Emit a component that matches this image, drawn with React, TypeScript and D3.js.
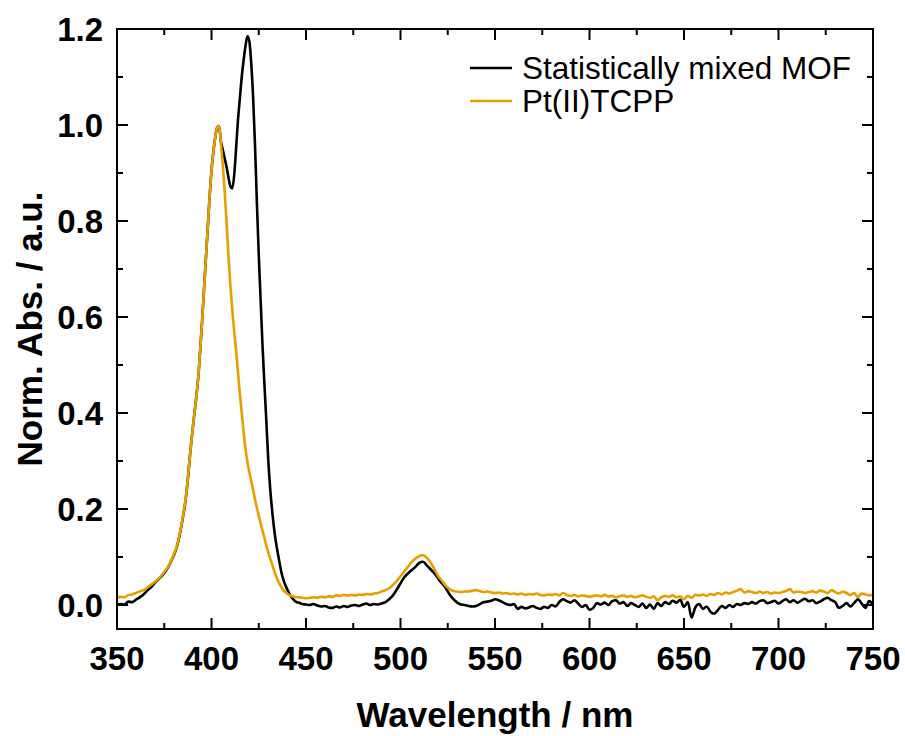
import { useRef, useEffect } from "react";
import * as d3 from "d3";

// sampling grid: 2 nm on the wings, 1 nm across the Soret band
const wavelengths = [
  ...d3.range(350, 380, 2),
  ...d3.range(380, 446, 1),
  ...d3.range(446, 751, 2),
];

// Statistically mixed MOF (black)
const mofEdge = [
  0.0, 0.002, 0.001, 0.007, 0.006, 0.011, 0.016, 0.022, 0.03, 0.037, 0.046,
  0.054, 0.062, 0.072, 0.086,
];
const mofSoret = [
  0.103, 0.113, 0.126, 0.143, 0.163, 0.186, 0.21, 0.243, 0.285, 0.328,
  0.365, 0.4, 0.435, 0.475, 0.53, 0.59, 0.655, 0.72, 0.785, 0.85,
  0.905, 0.945, 0.975, 0.995, 0.998, 0.965, 0.948, 0.93, 0.912, 0.89,
  0.872, 0.868, 0.895, 0.95, 1.01, 1.055, 1.1, 1.135, 1.165, 1.185,
  1.175, 1.13, 1.06, 0.96, 0.84, 0.73, 0.635, 0.54, 0.46, 0.385,
  0.305, 0.245, 0.2, 0.163, 0.133, 0.11, 0.088, 0.068, 0.053, 0.042,
  0.033, 0.025, 0.018, 0.013, 0.009, 0.006,
];
const mofQ = [
  0.005, 0.002, 0.001, 0.0, 0.002, -0.001, -0.003, -0.002, -0.005, -0.006,
  -0.003, -0.005, -0.002, -0.004, -0.001, 0.0, -0.002, 0.001, 0.003, 0.0,
  0.002, 0.001, 0.003, 0.006, 0.012, 0.02, 0.032, 0.045, 0.058, 0.066,
  0.073, 0.08, 0.088, 0.09, 0.082, 0.074, 0.066, 0.055, 0.045, 0.035,
  0.022, 0.012, 0.005, 0.001, 0.0, -0.002, -0.003, -0.002, 0.002, 0.006,
  0.007, 0.009, 0.012, 0.01, 0.006, 0.002, 0.0, 0.002, -0.008, -0.004,
  -0.007, -0.005, -0.002, -0.006, -0.008, -0.004, -0.006, 0.0, -0.003, 0.006,
  0.012, 0.008, 0.005, 0.01, 0.003, -0.004, 0.0, -0.01, -0.006, 0.004,
  0.001, 0.005, 0.0, 0.008, 0.01, 0.003, 0.006, -0.002, 0.004, 0.0,
  -0.004, 0.003, -0.006, 0.001, -0.008, 0.004, -0.002, 0.006, 0.002, 0.009,
  0.005, 0.011, -0.004, 0.006, -0.026, -0.005, 0.002, -0.008, -0.003, -0.014,
  -0.018, -0.01, -0.002, -0.006, 0.0, -0.004, 0.002, 0.0, 0.004, 0.002,
  0.006, 0.003, 0.008, 0.01, 0.004, 0.006, 0.009, 0.003, 0.008, 0.012,
  0.006, 0.01, 0.005, 0.009, 0.013, 0.008, 0.01, 0.004, 0.007, 0.012,
  0.015, 0.01, 0.006, -0.006, -0.002, 0.004, -0.003, 0.004, 0.012, 0.003,
  -0.006, 0.008, 0.0,
];

// Pt(II)TCPP (orange)
const ptEdge = [
  0.015, 0.017, 0.016, 0.021, 0.022, 0.025, 0.028, 0.031, 0.036, 0.042,
  0.048, 0.055, 0.064, 0.074, 0.087,
];
const ptSoret = [
  0.105, 0.115, 0.128, 0.145, 0.165, 0.188, 0.212, 0.245, 0.285, 0.328,
  0.365, 0.4, 0.435, 0.475, 0.53, 0.59, 0.655, 0.72, 0.785, 0.85,
  0.905, 0.945, 0.975, 0.995, 0.998, 0.96, 0.915, 0.86, 0.795, 0.725,
  0.665, 0.615, 0.57, 0.53, 0.485, 0.44, 0.4, 0.36, 0.325, 0.298,
  0.277, 0.258, 0.24, 0.22, 0.203, 0.186, 0.17, 0.155, 0.14, 0.124,
  0.11, 0.097, 0.086, 0.073, 0.062, 0.052, 0.044, 0.037, 0.031, 0.027,
  0.024, 0.021, 0.019, 0.018, 0.017, 0.016,
];
const ptQ = [
  0.016, 0.015, 0.014, 0.015, 0.016, 0.015, 0.017, 0.016, 0.018, 0.017,
  0.02, 0.019, 0.021, 0.02, 0.021, 0.02, 0.022, 0.021, 0.023, 0.022,
  0.024, 0.025, 0.028, 0.031, 0.035, 0.042, 0.05, 0.06, 0.07, 0.08,
  0.09, 0.097, 0.102, 0.104, 0.098, 0.088, 0.074, 0.06, 0.05, 0.04,
  0.033, 0.029, 0.028, 0.027, 0.028, 0.028, 0.03, 0.031, 0.029, 0.027,
  0.028, 0.026, 0.025, 0.026, 0.024, 0.025, 0.023, 0.024, 0.022, 0.024,
  0.021, 0.023, 0.022, 0.024, 0.021, 0.02, 0.022, 0.021, 0.023, 0.02,
  0.025, 0.021, 0.019, 0.021, 0.018, 0.02, 0.019, 0.017, 0.019, 0.02,
  0.018, 0.021, 0.018, 0.019, 0.016, 0.018, 0.02, 0.017, 0.019, 0.016,
  0.018, 0.02, 0.017, 0.015, 0.018, 0.01, 0.016, 0.019, 0.017, 0.02,
  0.016, 0.018, 0.012, 0.019, 0.015, 0.021, 0.02, 0.022, 0.019, 0.023,
  0.021, 0.025, 0.022, 0.026, 0.024, 0.027, 0.03, 0.033, 0.026, 0.029,
  0.027, 0.025, 0.028, 0.025, 0.027, 0.024, 0.026, 0.025, 0.027, 0.029,
  0.033, 0.026, 0.028, 0.027, 0.025, 0.027, 0.029, 0.026, 0.03, 0.028,
  0.025, 0.031, 0.027, 0.024, 0.028, 0.025, 0.021, 0.025, 0.017, 0.024,
  0.022, 0.02, 0.022,
];

const series = [
  { name: "Statistically mixed MOF", color: "#000000", values: [...mofEdge, ...mofSoret, ...mofQ] },
  { name: "Pt(II)TCPP", color: "#E69F00", values: [...ptEdge, ...ptSoret, ...ptQ] },
];

const xTicks = [350, 400, 450, 500, 550, 600, 650, 700, 750];
const xMinor = [375, 425, 475, 525, 575, 625, 675, 725];
const yTicks = [0.0, 0.2, 0.4, 0.6, 0.8, 1.0, 1.2];
const yMinor = [0.1, 0.3, 0.5, 0.7, 0.9, 1.1];

const App = () => {
  const svgRef = useRef(null);

  useEffect(() => {
    const svg = d3.select(svgRef.current);
    svg.selectAll("*").remove();

    const width = 905;
    const height = 736;
    const margin = { top: 29, right: 32, bottom: 107, left: 117 };
    const font = "'Liberation Sans', Arial, sans-serif";

    const x = d3
      .scaleLinear()
      .domain([350, 750])
      .range([margin.left, width - margin.right]);
    const y = d3
      .scaleLinear()
      .domain([-0.05, 1.2])
      .range([height - margin.bottom, margin.top]);

    const x0 = margin.left;
    const x1 = width - margin.right;
    const y0 = height - margin.bottom;
    const y1 = margin.top;

    // curves
    const line = d3
      .line()
      .x((d, i) => x(wavelengths[i]))
      .y((d) => y(d))
      .curve(d3.curveMonotoneX);

    series.forEach((s) => {
      svg
        .append("path")
        .datum(s.values)
        .attr("fill", "none")
        .attr("stroke", s.color)
        .attr("stroke-width", 2.6)
        .attr("stroke-linejoin", "round")
        .attr("d", line);
    });

    // ticks, pointing inward on all four sides
    const ticks = svg.append("g").attr("stroke", "#000").attr("stroke-width", 2);
    const xt = [
      ...xTicks.map((v) => [v, 11]),
      ...xMinor.map((v) => [v, 6]),
    ];
    xt.forEach(([v, len]) => {
      ticks.append("line").attr("x1", x(v)).attr("x2", x(v)).attr("y1", y0).attr("y2", y0 - len);
      ticks.append("line").attr("x1", x(v)).attr("x2", x(v)).attr("y1", y1).attr("y2", y1 + len);
    });
    const yt = [
      ...yTicks.map((v) => [v, 11]),
      ...yMinor.map((v) => [v, 6]),
    ];
    yt.forEach(([v, len]) => {
      ticks.append("line").attr("y1", y(v)).attr("y2", y(v)).attr("x1", x0).attr("x2", x0 + len);
      ticks.append("line").attr("y1", y(v)).attr("y2", y(v)).attr("x1", x1).attr("x2", x1 - len);
    });

    // frame
    svg
      .append("rect")
      .attr("x", x0)
      .attr("y", y1)
      .attr("width", x1 - x0)
      .attr("height", y0 - y1)
      .attr("fill", "none")
      .attr("stroke", "#000")
      .attr("stroke-width", 2);

    // tick labels
    svg
      .append("g")
      .selectAll("text")
      .data(xTicks)
      .join("text")
      .attr("x", (d) => x(d))
      .attr("y", 670)
      .attr("text-anchor", "middle")
      .style("font-family", font)
      .style("font-weight", "bold")
      .style("font-size", "33px")
      .text((d) => d);

    svg
      .append("g")
      .selectAll("text")
      .data(yTicks)
      .join("text")
      .attr("x", 103)
      .attr("y", (d) => y(d))
      .attr("dy", "0.36em")
      .attr("text-anchor", "end")
      .style("font-family", font)
      .style("font-weight", "bold")
      .style("font-size", "33px")
      .text((d) => d.toFixed(1));

    // axis titles
    svg
      .append("text")
      .attr("x", (x0 + x1) / 2)
      .attr("y", 727)
      .attr("text-anchor", "middle")
      .style("font-family", font)
      .style("font-weight", "bold")
      .style("font-size", "35px")
      .text("Wavelength / nm");

    svg
      .append("text")
      .attr("transform", `translate(42,${(y0 + y1) / 2}) rotate(-90)`)
      .attr("text-anchor", "middle")
      .style("font-family", font)
      .style("font-weight", "bold")
      .style("font-size", "35px")
      .text("Norm. Abs. / a.u.");

    // legend
    series.forEach((s, i) => {
      const ly = 68 + i * 33;
      svg
        .append("line")
        .attr("x1", 470)
        .attr("x2", 512)
        .attr("y1", ly)
        .attr("y2", ly)
        .attr("stroke", s.color)
        .attr("stroke-width", 2.6);
      svg
        .append("text")
        .attr("x", 522)
        .attr("y", ly)
        .attr("dy", "0.36em")
        .style("font-family", font)
        .style("font-size", "31.5px")
        .text(s.name);
    });
  }, []);

  return (
    <svg
      ref={svgRef}
      width="905"
      height="736"
      style={{ position: "absolute", left: 0, top: 0, background: "#fff" }}
    />
  );
};

export default App;
